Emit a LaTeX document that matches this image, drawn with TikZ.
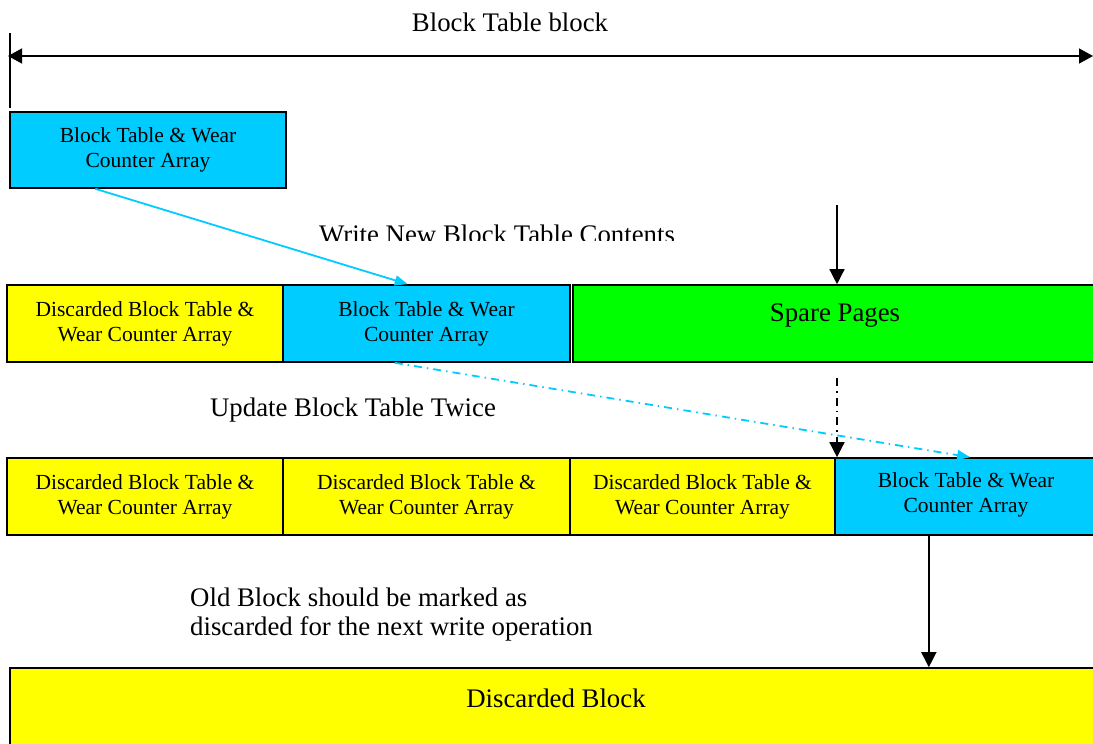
\documentclass[tikz,border=0pt]{standalone}
\usepackage{fontspec}
\setmainfont{Liberation Serif}
\usetikzlibrary{arrows.meta,calc}
\definecolor{bcyan}{HTML}{00CCFF}
\definecolor{byellow}{HTML}{FFFF00}
\definecolor{bgreen}{HTML}{00FF00}
\tikzset{
  blk/.style={draw=black,line width=1.6pt,minimum height=76pt,inner sep=0pt,align=center,
    font=\fontsize{21.5}{25}\selectfont},
  blackarrow/.style={line width=1.4pt,-{Triangle[width=15pt,length=15pt]}},
  cyanarrow/.style={bcyan,line width=1.8pt,-{Triangle[width=10pt,length=13pt]}},
  dashdot/.style={dash pattern=on 8pt off 5pt on 1.5pt off 5pt},
  lbl/.style={font=\fontsize{26.8}{29}\selectfont,inner sep=0pt}
}
\begin{document}
\begin{tikzpicture}[x=1pt,y=-1pt]
\clip (0,0) rectangle (1093,744);
\fill[white] (0,0) rectangle (1093,744);
% title and span arrow
\node[lbl] (title) at (510,22) {Block Table block};
\coordinate (spanL) at (8,56);
\coordinate (spanR) at (1093,56);
\coordinate (vtop) at (10,33);
\coordinate (vbot) at (10,108);
\draw[line width=1.4pt] (vtop) -- (vbot);
\draw[line width=1.4pt,{Triangle[width=15pt,length=14pt]}-{Triangle[width=15pt,length=14pt]}] (spanL) -- (spanR);
% box A
\node[blk,fill=bcyan,minimum width=276pt] (a) at (148,150) {Block Table \& Wear\\Counter Array};
% row 2
\node[blk,fill=byellow,minimum width=276pt,minimum height=77pt] (r2a) at (145,323.5) {Discarded Block Table \&\\Wear Counter Array};
\node[blk,fill=bcyan,minimum width=287pt,minimum height=77pt] (r2b) at (426.5,323.5) {Block Table \& Wear\\Counter Array};
\node[blk,fill=bgreen,minimum width=530pt,minimum height=77pt] (r2c) at (838,323.5) {};
\node[lbl] (spare) at (835,316) {Spare Pages};
% row 3
\node[blk,fill=byellow,minimum width=276pt,minimum height=77pt] (r3a) at (145,496.5) {Discarded Block Table \&\\Wear Counter Array};
\node[blk,fill=byellow,minimum width=287pt,minimum height=77pt] (r3b) at (426.5,496.5) {Discarded Block Table \&\\Wear Counter Array};
\node[blk,fill=byellow,minimum width=265pt,minimum height=77pt] (r3c) at (702.5,496.5) {Discarded Block Table \&\\Wear Counter Array};
\node[blk,fill=bcyan,minimum width=265pt,minimum height=77pt] (r3d) at (967.5,496.5) {};
\node[font=\fontsize{21.5}{25}\selectfont,align=center,inner sep=0pt] (r3dt) at (966,495) {Block Table \& Wear\\Counter Array};
% bottom
\node[blk,fill=byellow,minimum width=1090pt,minimum height=82pt] (bot) at (555,709) {};
\node[lbl] (bott) at (556,698) {Discarded Block};
% labels
\begin{scope}
\clip (300,200) rectangle (700,240.5);
\node[lbl] (wnb) at (497,234) {Write New Block Table Contents};
\end{scope}
\node[lbl] (upd) at (353,410) {Update Block Table Twice};
\node[lbl,align=left,anchor=west] (old) at (190,614.5) {Old Block should be marked as\\discarded for the next write operation};
% connectors
\coordinate (csrc) at ($(a.south west)!0.31!(a.south east)$);
\coordinate (cdst) at ($(r2b.north west)!0.435!(r2b.north east)$);
\draw[cyanarrow] (csrc) -- (cdst);
\coordinate (spdown) at (837,205);
\draw[blackarrow] (spdown) -- (spdown |- r2c.north);
\coordinate (ddstart) at (837,378);
\draw[blackarrow,dashdot] (ddstart) -- (ddstart |- r3d.north);
\coordinate (usrc) at ($(r2b.south west)!0.39!(r2b.south east)$);
\coordinate (udst) at ($(r3d.north west)!0.51!(r3d.north east)$);
\draw[cyanarrow,dashdot] (usrc) -- (udst);
\coordinate (osrc) at ($(r3d.south west)!0.355!(r3d.south east)$);
\draw[blackarrow] (osrc) -- (osrc |- bot.north);
\end{tikzpicture}
\end{document}
